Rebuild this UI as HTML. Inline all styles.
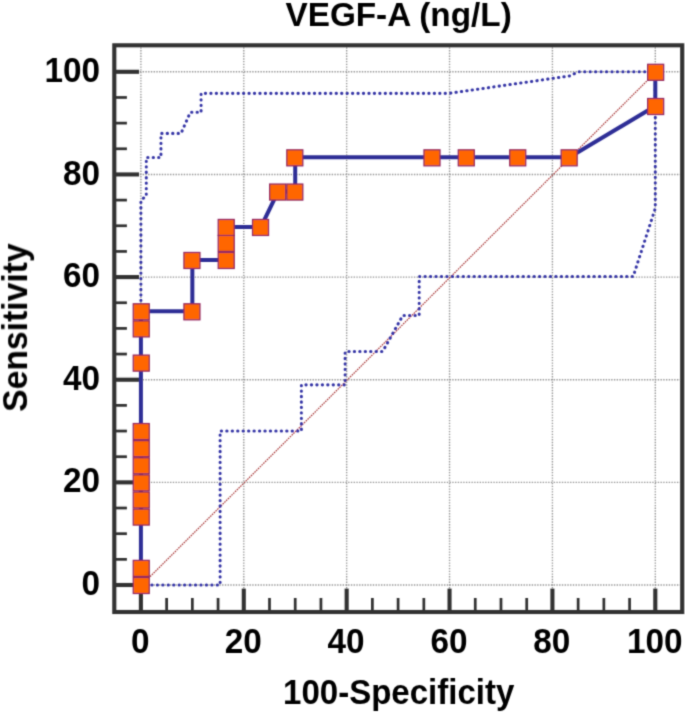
<!DOCTYPE html>
<html lang="en"><head><meta charset="utf-8"><title>VEGF-A (ng/L) ROC curve</title>
<style>html,body{margin:0;padding:0;background:#fff;}body{width:685px;height:714px;overflow:hidden;}svg{display:block;}text{font-family:"Liberation Sans",Arial,Helvetica,sans-serif;font-weight:bold;fill:#000000;}.tl{font-size:33.3px;}.ti{font-size:33.3px;}</style></head><body>
<svg width="685" height="714" viewBox="0 0 685 714">
<defs><filter id="soft" x="0" y="0" width="685" height="714" filterUnits="userSpaceOnUse"><feConvolveMatrix order="3" kernelMatrix="0.0277 0.111 0.0277 0.111 0.4452 0.111 0.0277 0.111 0.0277" divisor="1" edgeMode="duplicate" preserveAlpha="false"/></filter></defs>
<rect x="0" y="0" width="685" height="714" fill="#ffffff"/>
<g filter="url(#soft)">
<g stroke="#939393" stroke-width="1.37" stroke-dasharray="1.37 1.37" fill="none">
<line x1="140.90" y1="47.30" x2="140.90" y2="610.00"/>
<line x1="139.90" y1="585.00" x2="680.20" y2="585.00"/>
<line x1="243.78" y1="47.30" x2="243.78" y2="610.00"/>
<line x1="139.90" y1="482.36" x2="680.20" y2="482.36"/>
<line x1="346.66" y1="47.30" x2="346.66" y2="610.00"/>
<line x1="139.90" y1="379.72" x2="680.20" y2="379.72"/>
<line x1="449.54" y1="47.30" x2="449.54" y2="610.00"/>
<line x1="139.90" y1="277.08" x2="680.20" y2="277.08"/>
<line x1="552.42" y1="47.30" x2="552.42" y2="610.00"/>
<line x1="139.90" y1="174.44" x2="680.20" y2="174.44"/>
<line x1="655.30" y1="47.30" x2="655.30" y2="610.00"/>
<line x1="139.90" y1="71.80" x2="680.20" y2="71.80"/>
</g>
<line x1="141.20" y1="585.50" x2="655.60" y2="72.30" stroke="#a83838" stroke-width="1.2" stroke-dasharray="1.6 0.9"/>
<g stroke="#3636a6" stroke-width="3.05" stroke-dasharray="0.3 5.15" stroke-linecap="round" fill="none">
<polyline points="140.90,311.46 140.90,200.10 146.30,195.99 146.30,157.50 160.96,157.50 160.96,133.38 181.02,133.38 190.28,112.34 201.08,112.34 201.08,93.35 449.03,93.35 569.91,75.91 578.14,71.80 655.30,71.80"/>
<polyline points="140.90,585.00 220.12,585.00 220.12,431.04 301.39,431.04 301.39,384.85 345.12,384.85 345.12,351.49 382.67,351.49 402.73,315.57 419.19,315.57 419.19,276.57 633.18,276.57 655.30,208.31 655.30,71.80"/>
</g>
<rect x="114.3" y="45.3" width="567.90" height="566.70" fill="none" stroke="#333333" stroke-width="4.1"/>
<g stroke="#333333" fill="none">
<line x1="114.3" y1="585.00" x2="139.10" y2="585.00" stroke-width="4.1"/>
<line x1="140.90" y1="612.0" x2="140.90" y2="588.60" stroke-width="4.1"/>
<line x1="114.3" y1="559.34" x2="126.90" y2="559.34" stroke-width="2.74"/>
<line x1="166.62" y1="612.0" x2="166.62" y2="598.00" stroke-width="2.74"/>
<line x1="114.3" y1="533.68" x2="126.90" y2="533.68" stroke-width="2.74"/>
<line x1="192.34" y1="612.0" x2="192.34" y2="598.00" stroke-width="2.74"/>
<line x1="114.3" y1="508.02" x2="126.90" y2="508.02" stroke-width="2.74"/>
<line x1="218.06" y1="612.0" x2="218.06" y2="598.00" stroke-width="2.74"/>
<line x1="114.3" y1="482.36" x2="139.10" y2="482.36" stroke-width="4.1"/>
<line x1="243.78" y1="612.0" x2="243.78" y2="588.60" stroke-width="4.1"/>
<line x1="114.3" y1="456.70" x2="126.90" y2="456.70" stroke-width="2.74"/>
<line x1="269.50" y1="612.0" x2="269.50" y2="598.00" stroke-width="2.74"/>
<line x1="114.3" y1="431.04" x2="126.90" y2="431.04" stroke-width="2.74"/>
<line x1="295.22" y1="612.0" x2="295.22" y2="598.00" stroke-width="2.74"/>
<line x1="114.3" y1="405.38" x2="126.90" y2="405.38" stroke-width="2.74"/>
<line x1="320.94" y1="612.0" x2="320.94" y2="598.00" stroke-width="2.74"/>
<line x1="114.3" y1="379.72" x2="139.10" y2="379.72" stroke-width="4.1"/>
<line x1="346.66" y1="612.0" x2="346.66" y2="588.60" stroke-width="4.1"/>
<line x1="114.3" y1="354.06" x2="126.90" y2="354.06" stroke-width="2.74"/>
<line x1="372.38" y1="612.0" x2="372.38" y2="598.00" stroke-width="2.74"/>
<line x1="114.3" y1="328.40" x2="126.90" y2="328.40" stroke-width="2.74"/>
<line x1="398.10" y1="612.0" x2="398.10" y2="598.00" stroke-width="2.74"/>
<line x1="114.3" y1="302.74" x2="126.90" y2="302.74" stroke-width="2.74"/>
<line x1="423.82" y1="612.0" x2="423.82" y2="598.00" stroke-width="2.74"/>
<line x1="114.3" y1="277.08" x2="139.10" y2="277.08" stroke-width="4.1"/>
<line x1="449.54" y1="612.0" x2="449.54" y2="588.60" stroke-width="4.1"/>
<line x1="114.3" y1="251.42" x2="126.90" y2="251.42" stroke-width="2.74"/>
<line x1="475.26" y1="612.0" x2="475.26" y2="598.00" stroke-width="2.74"/>
<line x1="114.3" y1="225.76" x2="126.90" y2="225.76" stroke-width="2.74"/>
<line x1="500.98" y1="612.0" x2="500.98" y2="598.00" stroke-width="2.74"/>
<line x1="114.3" y1="200.10" x2="126.90" y2="200.10" stroke-width="2.74"/>
<line x1="526.70" y1="612.0" x2="526.70" y2="598.00" stroke-width="2.74"/>
<line x1="114.3" y1="174.44" x2="139.10" y2="174.44" stroke-width="4.1"/>
<line x1="552.42" y1="612.0" x2="552.42" y2="588.60" stroke-width="4.1"/>
<line x1="114.3" y1="148.78" x2="126.90" y2="148.78" stroke-width="2.74"/>
<line x1="578.14" y1="612.0" x2="578.14" y2="598.00" stroke-width="2.74"/>
<line x1="114.3" y1="123.12" x2="126.90" y2="123.12" stroke-width="2.74"/>
<line x1="603.86" y1="612.0" x2="603.86" y2="598.00" stroke-width="2.74"/>
<line x1="114.3" y1="97.46" x2="126.90" y2="97.46" stroke-width="2.74"/>
<line x1="629.58" y1="612.0" x2="629.58" y2="598.00" stroke-width="2.74"/>
<line x1="114.3" y1="71.80" x2="139.10" y2="71.80" stroke-width="4.1"/>
<line x1="655.30" y1="612.0" x2="655.30" y2="588.60" stroke-width="4.1"/>
</g>
<polyline points="140.90,585.00 140.90,567.89 140.90,516.57 140.90,499.47 140.90,482.36 140.90,465.25 140.90,448.15 140.90,431.04 140.90,362.61 140.90,328.40 140.90,311.29 192.34,311.29 192.34,259.97 226.63,259.97 226.63,242.87 226.63,226.96 260.93,226.96 278.07,191.55 295.22,191.55 295.22,157.33 432.39,157.33 466.69,157.33 518.13,157.33 569.57,157.33 655.30,106.01 655.30,71.80" fill="none" stroke="#2d2d96" stroke-width="4" stroke-linejoin="miter"/>
<g fill="#ff6600" stroke="#912862" stroke-width="1.25">
<rect x="133.25" y="577.50" width="16.0" height="16.0"/>
<rect x="133.25" y="560.39" width="16.0" height="16.0"/>
<rect x="133.25" y="509.07" width="16.0" height="16.0"/>
<rect x="133.25" y="491.97" width="16.0" height="16.0"/>
<rect x="133.25" y="474.86" width="16.0" height="16.0"/>
<rect x="133.25" y="457.75" width="16.0" height="16.0"/>
<rect x="133.25" y="440.65" width="16.0" height="16.0"/>
<rect x="133.25" y="423.54" width="16.0" height="16.0"/>
<rect x="133.25" y="355.11" width="16.0" height="16.0"/>
<rect x="133.25" y="320.90" width="16.0" height="16.0"/>
<rect x="133.25" y="303.79" width="16.0" height="16.0"/>
<rect x="183.94" y="303.79" width="16.0" height="16.0"/>
<rect x="183.94" y="252.47" width="16.0" height="16.0"/>
<rect x="218.23" y="252.47" width="16.0" height="16.0"/>
<rect x="218.23" y="235.37" width="16.0" height="16.0"/>
<rect x="218.23" y="219.46" width="16.0" height="16.0"/>
<rect x="252.53" y="219.46" width="16.0" height="16.0"/>
<rect x="269.67" y="184.05" width="16.0" height="16.0"/>
<rect x="286.82" y="184.05" width="16.0" height="16.0"/>
<rect x="286.82" y="149.83" width="16.0" height="16.0"/>
<rect x="423.99" y="149.83" width="16.0" height="16.0"/>
<rect x="458.29" y="149.83" width="16.0" height="16.0"/>
<rect x="509.73" y="149.83" width="16.0" height="16.0"/>
<rect x="561.17" y="149.83" width="16.0" height="16.0"/>
<rect x="647.65" y="98.51" width="16.0" height="16.0"/>
<rect x="647.65" y="64.30" width="16.0" height="16.0"/>
</g>
<text class="ti" x="398.6" y="25.9" text-anchor="middle">VEGF-A (ng/L)</text>
<text class="ti" transform="translate(398.7 704.3) scale(0.992 1.05)" text-anchor="middle">100-Specificity</text>
<text class="ti" style="font-size:33.7px" transform="translate(27.3 327.6) rotate(-90) scale(1 1.04)" text-anchor="middle">Sensitivity</text>
<text class="tl" transform="translate(100.1 595.10) scale(1 1.04)" text-anchor="end">0</text>
<text class="tl" transform="translate(140.30 652.9) scale(1 1.04)" text-anchor="middle">0</text>
<text class="tl" transform="translate(100.1 492.46) scale(1 1.04)" text-anchor="end">20</text>
<text class="tl" transform="translate(243.18 652.9) scale(1 1.04)" text-anchor="middle">20</text>
<text class="tl" transform="translate(100.1 389.82) scale(1 1.04)" text-anchor="end">40</text>
<text class="tl" transform="translate(346.06 652.9) scale(1 1.04)" text-anchor="middle">40</text>
<text class="tl" transform="translate(100.1 287.18) scale(1 1.04)" text-anchor="end">60</text>
<text class="tl" transform="translate(448.94 652.9) scale(1 1.04)" text-anchor="middle">60</text>
<text class="tl" transform="translate(100.1 184.54) scale(1 1.04)" text-anchor="end">80</text>
<text class="tl" transform="translate(551.82 652.9) scale(1 1.04)" text-anchor="middle">80</text>
<text class="tl" transform="translate(100.1 81.90) scale(1 1.04)" text-anchor="end">100</text>
<text class="tl" transform="translate(654.70 652.9) scale(1 1.04)" text-anchor="middle">100</text>
</g>
</svg></body></html>
